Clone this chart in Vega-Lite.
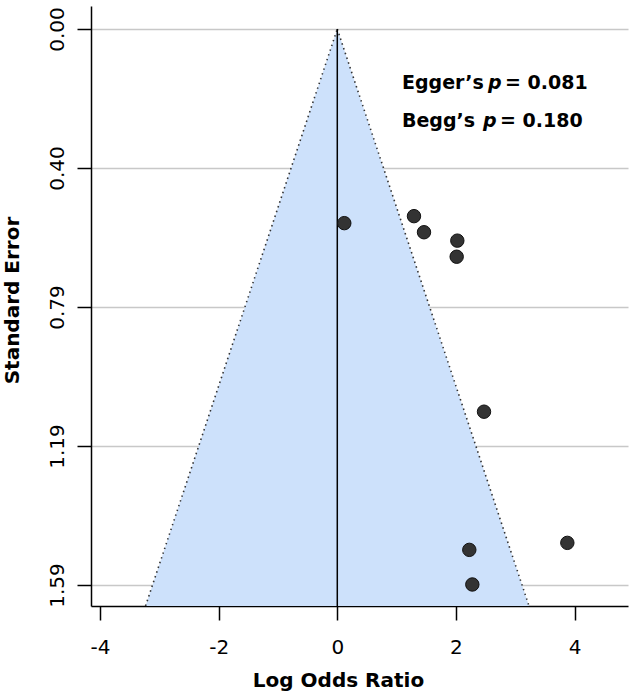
{
  "$schema": "https://vega.github.io/schema/vega-lite/v6.json",
  "width": 537,
  "height": 600,
  "autosize": "none",
  "padding": {"left": 91, "top": 6, "right": 5, "bottom": 93},
  "background": "white",
  "datasets": {
    "funnel": [
      {"y": 0, "x": 0, "x2": 0},
      {"y": 1.6495, "x": -3.233, "x2": 3.233}
    ],
    "edges": [
      {"side": "L", "y": 0, "x": 0},
      {"side": "L", "y": 1.6495, "x": -3.233},
      {"side": "R", "y": 0, "x": 0},
      {"side": "R", "y": 1.6495, "x": 3.233}
    ],
    "zero": [{"x": 0, "y": 0, "y2": 1.6495}],
    "studies": [
      {"x": 0.118, "y": 0.555},
      {"x": 1.293, "y": 0.535},
      {"x": 1.462, "y": 0.581},
      {"x": 2.024, "y": 0.605},
      {"x": 2.013, "y": 0.651},
      {"x": 2.474, "y": 1.094},
      {"x": 3.879, "y": 1.469},
      {"x": 2.226, "y": 1.489},
      {"x": 2.277, "y": 1.588}
    ],
    "plain": [
      {"x": 1.091, "y": 0.154, "label": "Egger’s"},
      {"x": 2.828, "y": 0.154, "label": "= 0.081"},
      {"x": 1.091, "y": 0.263, "label": "Begg’s"},
      {"x": 2.744, "y": 0.263, "label": "= 0.180"}
    ],
    "ital": [
      {"x": 2.541, "y": 0.154, "label": "p"},
      {"x": 2.457, "y": 0.263, "label": "p"}
    ]
  },
  "encoding": {
    "y": {"field": "y", "type": "quantitative", "title": "Standard Error",
          "scale": {"domain": [-0.0658, 1.6495], "reverse": true, "nice": false, "zero": false},
          "axis": {"values": [0, 0.3974, 0.7948, 1.1922, 1.5896], "format": ".2f", "grid": true,
                   "gridColor": "#c8c8c8", "gridWidth": 1.5,
                   "labelAngle": -90, "labelAlign": "center", "labelBaseline": "alphabetic", "labelPadding": 14,
                   "titleX": -72.7, "titleY": 294, "titleAngle": -90, "titleBaseline": "alphabetic", "titleAlign": "center"}},
    "x": {"field": "x", "type": "quantitative", "title": "Log Odds Ratio",
          "scale": {"domain": [-4.153, 4.902], "nice": false, "zero": false},
          "axis": {"values": [-4, -2, 0, 2, 4], "grid": false, "labelFlush": false, "labelOverlap": false,
                   "labelExpr": "replace(datum.label, '−', '-')",
                   "labelPadding": 17, "labelBaseline": "top",
                   "titleX": 247, "titleY": 80.7, "titleBaseline": "alphabetic", "titleAlign": "center"}}
  },
  "layer": [
    {
      "data": {"name": "funnel"},
      "mark": {"type": "area", "orient": "horizontal", "color": "#cde1fb", "opacity": 1},
      "encoding": {"x2": {"field": "x2"}}
    },
    {
      "data": {"name": "edges"},
      "mark": {"type": "line", "color": "#333333", "strokeWidth": 1.6, "strokeDash": [1.5, 3.5]},
      "encoding": {"detail": {"field": "side"}}
    },
    {
      "data": {"name": "zero"},
      "mark": {"type": "rule", "color": "black", "strokeWidth": 1.5},
      "encoding": {"y2": {"field": "y2"}}
    },
    {
      "data": {"name": "studies"},
      "mark": {"type": "point", "shape": "circle", "filled": true, "size": 180, "fill": "#333333", "stroke": "#111111", "strokeWidth": 1, "opacity": 1},
      "encoding": {}
    },
    {
      "data": {"name": "plain"},
      "mark": {"type": "text", "align": "left", "baseline": "middle", "font": "DejaVu Sans", "fontSize": 19, "fontWeight": "bold", "color": "black"},
      "encoding": {"text": {"field": "label"}}
    },
    {
      "data": {"name": "ital"},
      "mark": {"type": "text", "align": "left", "baseline": "middle", "font": "DejaVu Sans", "fontSize": 19, "fontWeight": "bold", "fontStyle": "italic", "color": "black"},
      "encoding": {"text": {"field": "label"}}
    }
  ],
  "config": {
    "view": {"stroke": null},
    "font": "DejaVu Sans",
    "axis": {
      "domainColor": "black", "domainWidth": 1.5,
      "tickColor": "black", "tickWidth": 1.5, "tickSize": 14,
      "labelColor": "black", "labelFont": "DejaVu Sans", "labelFontSize": 20,
      "titleFont": "DejaVu Sans", "titleFontSize": 20, "titleFontWeight": "bold", "titleColor": "black"
    }
  }
}
